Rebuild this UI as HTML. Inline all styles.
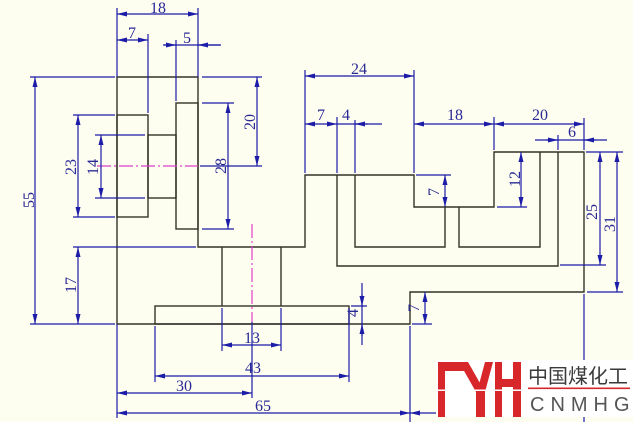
<!DOCTYPE html>
<html><head><meta charset="utf-8"><style>
html,body{margin:0;padding:0;background:#fdfdf0;}
svg{display:block;}
.t{font-family:"Liberation Serif",serif;font-size:16px;fill:#2a2a96;text-anchor:middle;}
</style></head><body>
<svg width="633" height="422" viewBox="0 0 633 422" xmlns="http://www.w3.org/2000/svg">
<defs>
<marker id="a" markerUnits="userSpaceOnUse" markerWidth="11" markerHeight="5" refX="10" refY="2.5" orient="auto-start-reverse">
<path d="M0,0 L10,2.5 L0,5 z" fill="#1c1ca8"/>
</marker>
</defs>
<rect width="633" height="422" fill="#fdfdf0"/>

<!-- Outline -->
<g fill="none" stroke="#333328" stroke-width="1.4">
<path d="M117,77 H198 V247 H305 V175 H414 V207 H494 V152 H584 V292 H410 V324 H117 Z"/>
<rect x="117" y="115" width="31" height="102"/>
<rect x="148" y="135" width="28" height="63"/>
<rect x="176" y="103" width="22" height="126"/>
<path d="M222,247 V306 M281,247 V306"/>
<rect x="155" y="306" width="194" height="18"/>
<path d="M337,175 V266 H558 V152"/>
<path d="M355,175 V247 H445 V207"/>
<path d="M459,207 V247 H540 V152"/>
</g>

<!-- center lines -->
<g fill="none" stroke="#e040c8" stroke-width="1.2" stroke-dasharray="14 3 2 3">
<path d="M97,166 H198"/>
<path d="M252,224 V322"/>
</g>

<!-- extension lines -->
<g fill="none" stroke="#1c1ca8" stroke-width="1.2">
<path d="M117,8 V77 M117,324 V418 M198,8 V77 M148,34 V113 M176,40 V101"/>
<path d="M30,77 H115 M30,324 H115 M73,115 H115 M73,217 H115 M95,135 H145 M95,198 H145 M73,247 H196"/>
<path d="M202,77 H262 M200,166 H262 M202,103 H234 M202,229 H234"/>
<path d="M222,308 V351 M281,308 V351 M155,326 V382 M349,308 V382 M252,322 V398 M410,326 V422"/>
<path d="M351,306 H367 M412,324 H432"/>
<path d="M305,70 V173 M414,70 V173 M337,117 V173 M355,120 V173 M494,117 V150 M584,118 V150 M558,135 V150"/>
<path d="M416,175 H451 M497,207 H527 M586,152 H623 M560,265 H606 M587,292 H623 M584,294 V422"/>
</g>

<!-- dimension lines -->
<g fill="none" stroke="#1c1ca8" stroke-width="1.2">
<path d="M117,14 H198" marker-start="url(#a)" marker-end="url(#a)"/>
<path d="M117,40 H148" marker-start="url(#a)" marker-end="url(#a)"/>
<path d="M163,45 H221"/>
<path d="M164,45 H176" marker-end="url(#a)"/>
<path d="M220,45 H198" marker-end="url(#a)"/>
<path d="M35,77 V324" marker-start="url(#a)" marker-end="url(#a)"/>
<path d="M78,115 V217" marker-start="url(#a)" marker-end="url(#a)"/>
<path d="M101,135 V198" marker-start="url(#a)" marker-end="url(#a)"/>
<path d="M78,247 V324" marker-start="url(#a)" marker-end="url(#a)"/>
<path d="M257,77 V166" marker-start="url(#a)" marker-end="url(#a)"/>
<path d="M228,103 V229" marker-start="url(#a)" marker-end="url(#a)"/>
<path d="M222,345 H281" marker-start="url(#a)" marker-end="url(#a)"/>
<path d="M155,376 H349" marker-start="url(#a)" marker-end="url(#a)"/>
<path d="M117,393 H252" marker-start="url(#a)" marker-end="url(#a)"/>
<path d="M117,413 H410" marker-start="url(#a)" marker-end="url(#a)"/>
<path d="M410,413 H440" marker-start="url(#a)"/>
<path d="M305,76 H414" marker-start="url(#a)" marker-end="url(#a)"/>
<path d="M305,124 H337" marker-start="url(#a)" marker-end="url(#a)"/>
<path d="M337,124 H382"/>
<path d="M368,124 H355" marker-end="url(#a)"/>
<path d="M414,124 H494" marker-start="url(#a)" marker-end="url(#a)"/>
<path d="M494,124 H584" marker-start="url(#a)" marker-end="url(#a)"/>
<path d="M535,140 H607"/>
<path d="M546,140 H558" marker-end="url(#a)"/>
<path d="M596,140 H584" marker-end="url(#a)"/>
<path d="M445,175 V207" marker-start="url(#a)" marker-end="url(#a)"/>
<path d="M521,152 V207" marker-start="url(#a)" marker-end="url(#a)"/>
<path d="M600,152 V265" marker-start="url(#a)" marker-end="url(#a)"/>
<path d="M617,152 V292" marker-start="url(#a)" marker-end="url(#a)"/>
<path d="M362,283 V345"/>
<path d="M362,294 V306" marker-end="url(#a)"/>
<path d="M362,336 V324" marker-end="url(#a)"/>
<path d="M425,292 V324" marker-start="url(#a)" marker-end="url(#a)"/>
</g>

<!-- texts -->
<g class="t">
<text class="t" x="158" y="13">18</text>
<text class="t" x="132" y="38">7</text>
<text class="t" x="187" y="43">5</text>
<text class="t" x="359" y="74">24</text>
<text class="t" x="321" y="120">7</text>
<text class="t" x="346" y="120">4</text>
<text class="t" x="455" y="120">18</text>
<text class="t" x="540" y="120">20</text>
<text class="t" x="572" y="137">6</text>
<text class="t" x="252" y="343">13</text>
<text class="t" x="253" y="373">43</text>
<text class="t" x="184" y="391">30</text>
<text class="t" x="263" y="411">65</text>
<text class="t" transform="translate(34,200) rotate(-90)">55</text>
<text class="t" transform="translate(76,167) rotate(-90)">23</text>
<text class="t" transform="translate(98,167) rotate(-90)">14</text>
<text class="t" transform="translate(76,285) rotate(-90)">17</text>
<text class="t" transform="translate(255,122) rotate(-90)">20</text>
<text class="t" transform="translate(226,166) rotate(-90)">28</text>
<text class="t" transform="translate(439,192) rotate(-90)">7</text>
<text class="t" transform="translate(520,179) rotate(-90)">12</text>
<text class="t" transform="translate(597,212) rotate(-90)">25</text>
<text class="t" transform="translate(615,224) rotate(-90)">31</text>
<text class="t" transform="translate(358,313) rotate(-90)">4</text>
<text class="t" transform="translate(419,308) rotate(-90)">7</text>
</g>

<!-- logo -->
<rect x="436" y="360" width="197" height="57" fill="#ffffff"/>
<g fill="#d8272b">
<rect x="438" y="362" width="7" height="55"/>
<rect x="438" y="362" width="29" height="9"/>
<polygon points="459,362 468,362 485,392 476,392"/>
<polygon points="485,362 493,362 485,392 477,392"/>
<rect x="476" y="390" width="9" height="27"/>
<rect x="495" y="362" width="7" height="55"/>
<rect x="513" y="362" width="8" height="55"/>
<rect x="495" y="379" width="26" height="8"/>
</g>
<rect x="436" y="389.5" width="86" height="1.5" fill="#ffffff"/>
<text x="528" y="383" style="font-family:'Liberation Sans','Noto Sans CJK SC',sans-serif;font-size:20px;fill:#3a3a3a;">中国煤化工</text>
<rect x="528" y="387.5" width="102" height="1.6" fill="#d8272b"/>
<text x="530" y="411" style="font-family:'Liberation Sans',sans-serif;font-size:20px;fill:#555;letter-spacing:6px;">CNMHG</text>
</svg>
</body></html>
